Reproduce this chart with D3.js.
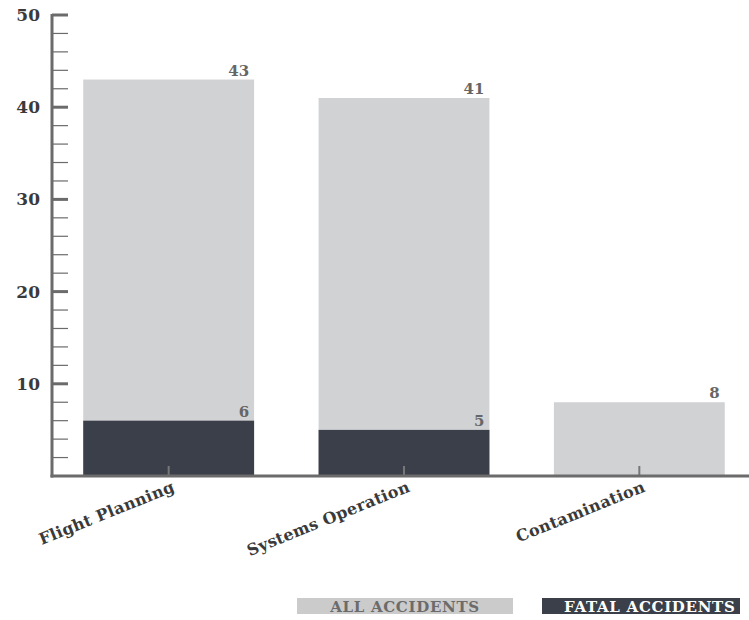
<!DOCTYPE html>
<html>
<head>
<meta charset="utf-8">
<script src="https://cdn.jsdelivr.net/npm/d3@7"></script>
<style>
  html, body { margin: 0; padding: 0; background: #fff; }
  svg { display: block; font-family: "DejaVu Serif", serif; font-weight: bold; }
</style>
</head>
<body>
<svg id="chart" width="749" height="620"></svg>
<script>
// Accident counts by cause
const categories = ["Flight Planning", "Systems Operation", "Contamination"];
const allAccidents = [43, 41, 8];
const fatalAccidents = [6, 5, 0];
const yMajorTicks = [10, 20, 30, 40, 50];
const yMinorTicks = d3.range(2, 51, 2);
const legendLabels = ["ALL ACCIDENTS", "FATAL ACCIDENTS"];

const colAll = "#d1d2d4";
const colFatal = "#3a3f4a";
const axisCol = "#6b6b6b";

const svg = d3.select("#chart");
const axisX0 = 52, axisY0 = 476;

const y = d3.scaleLinear().domain([0, 50]).range([axisY0, 15]);
const x = d3.scaleBand().domain(categories).range([51, 757])
  .paddingInner(0.274).paddingOuter(0.137);

// bars
const g = svg.append("g");
g.selectAll("rect.all").data(categories).join("rect")
  .attr("class", "all")
  .attr("x", d => x(d)).attr("width", x.bandwidth())
  .attr("y", (d, i) => y(allAccidents[i]))
  .attr("height", (d, i) => axisY0 - y(allAccidents[i]))
  .attr("fill", colAll);

g.selectAll("rect.fatal").data(categories).join("rect")
  .attr("class", "fatal")
  .attr("x", d => x(d)).attr("width", x.bandwidth())
  .attr("y", (d, i) => y(fatalAccidents[i]))
  .attr("height", (d, i) => axisY0 - y(fatalAccidents[i]))
  .attr("fill", colFatal);

// value labels
g.selectAll("text.vall").data(categories).join("text")
  .attr("x", d => x(d) + x.bandwidth() - 5)
  .attr("y", (d, i) => y(allAccidents[i]) - 4)
  .attr("text-anchor", "end").attr("font-size", 15).attr("fill", "#666")
  .text((d, i) => allAccidents[i]);

g.selectAll("text.vfatal").data(categories.filter((d, i) => fatalAccidents[i] > 0)).join("text")
  .attr("x", d => x(d) + x.bandwidth() - 5)
  .attr("y", d => y(fatalAccidents[categories.indexOf(d)]) - 4)
  .attr("text-anchor", "end").attr("font-size", 15).attr("fill", "#666")
  .text(d => fatalAccidents[categories.indexOf(d)]);

// x tick marks inside bars
g.selectAll("line.xt").data(categories).join("line")
  .attr("x1", d => x(d) + x.bandwidth() / 2).attr("x2", d => x(d) + x.bandwidth() / 2)
  .attr("y1", axisY0 - 10).attr("y2", axisY0)
  .attr("stroke", "#777").attr("stroke-width", 2);

// y axis ticks
svg.selectAll("line.ymin").data(yMinorTicks).join("line")
  .attr("x1", axisX0).attr("x2", 68)
  .attr("y1", d => y(d)).attr("y2", d => y(d))
  .attr("stroke", axisCol)
  .attr("stroke-width", d => d % 10 === 0 ? 3 : 1.2);

svg.selectAll("text.ylab").data(yMajorTicks).join("text")
  .attr("x", 40).attr("y", d => y(d) + 6)
  .attr("text-anchor", "end").attr("font-size", 17).attr("fill", "#3a3a3a")
  .text(d => d);

// axis lines
svg.append("line").attr("x1", axisX0).attr("x2", axisX0)
  .attr("y1", y(50) - 1).attr("y2", axisY0 + 1.5)
  .attr("stroke", axisCol).attr("stroke-width", 3);
svg.append("line").attr("x1", axisX0 - 1.5).attr("x2", 749)
  .attr("y1", axisY0).attr("y2", axisY0)
  .attr("stroke", axisCol).attr("stroke-width", 3);

// category labels
svg.selectAll("text.xlab").data(categories).join("text")
  .attr("text-anchor", "end").attr("font-size", 16).attr("fill", "#3a3a3a")
  .attr("letter-spacing", 0.3)
  .attr("transform", d => `translate(${x(d) + x.bandwidth() / 2 + 7},${axisY0 + 15}) rotate(-22)`)
  .text(d => d);

// legend
const legend = [
  { label: legendLabels[0], x0: 297, x1: 513, fill: "#cbcbcb", text: "#6b6b6b", anchor: "middle", tx: 405 },
  { label: legendLabels[1], x0: 542, x1: 740, fill: colFatal, text: "#ffffff", anchor: "start", tx: 564 }
];
const lg = svg.append("g");
lg.selectAll("rect").data(legend).join("rect")
  .attr("x", d => d.x0).attr("width", d => d.x1 - d.x0)
  .attr("y", 598).attr("height", 16).attr("fill", d => d.fill);
lg.selectAll("text").data(legend).join("text")
  .attr("x", d => d.tx).attr("y", 611.5)
  .attr("text-anchor", d => d.anchor).attr("font-size", 15).attr("fill", d => d.text)
  .attr("letter-spacing", 0.7)
  .text(d => d.label);
</script>
</body>
</html>
